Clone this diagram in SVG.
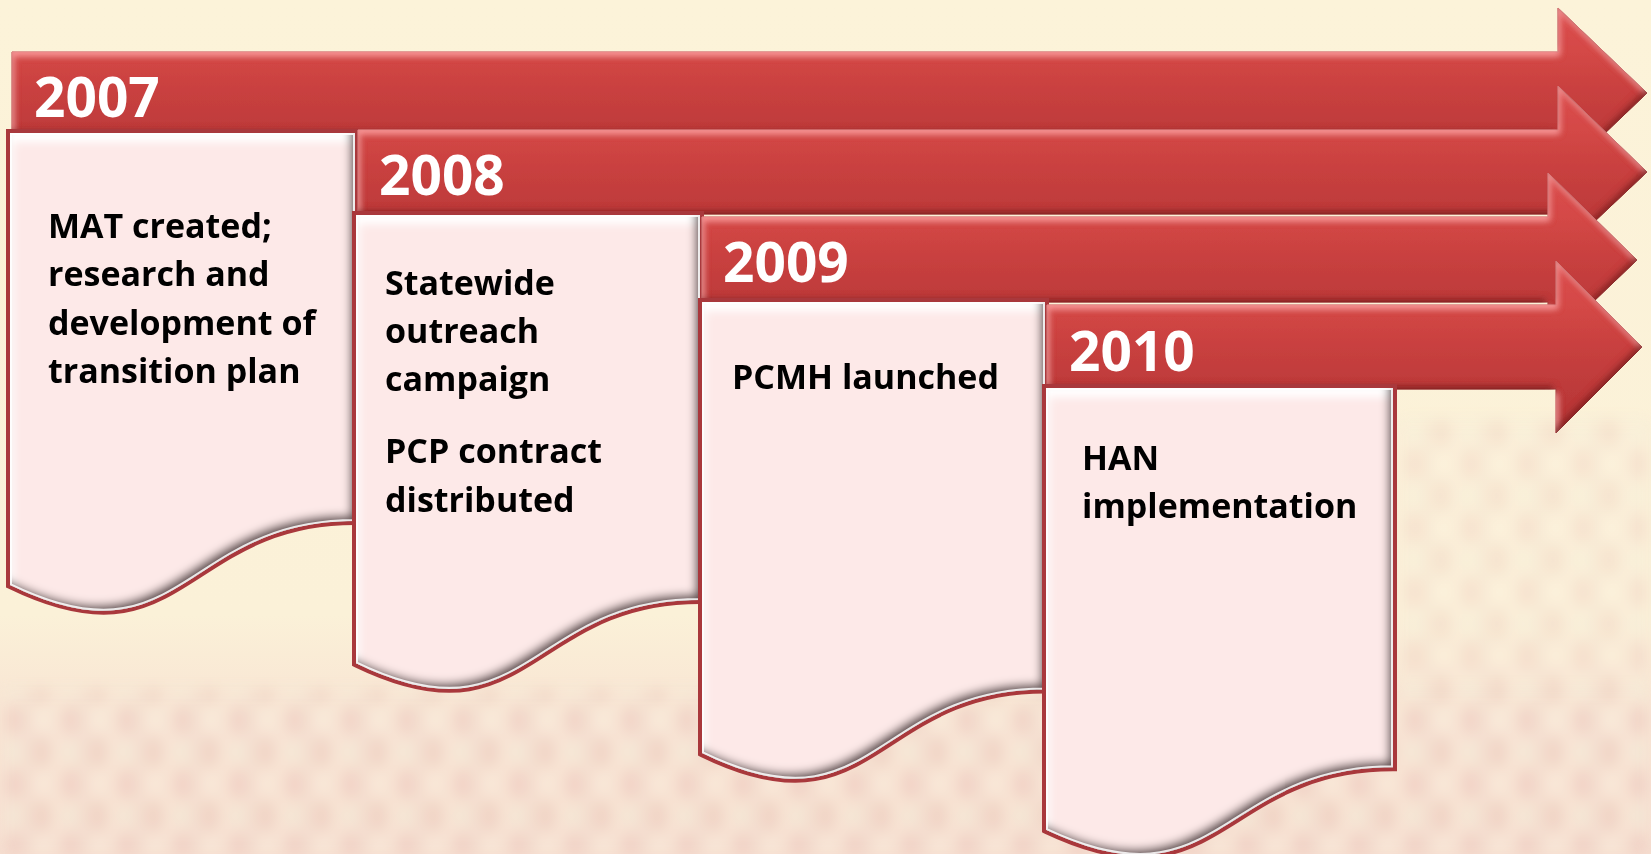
<svg xmlns="http://www.w3.org/2000/svg" width="1651" height="854" viewBox="0 0 1651 854">
  <style>
    .year { font-family: "Open Sans", "Noto Sans", "Liberation Sans", sans-serif; font-weight: 700; font-size: 55px; fill: #ffffff; }
    .body { font-family: "Open Sans", "Noto Sans", "Liberation Sans", sans-serif; font-weight: 700; font-size: 34px; fill: #000000; }
    .arrow { fill: url(#arrowGrad); stroke: #a33333; stroke-width: 1; filter: url(#bevelA); }
    .boxEdge { fill: none; stroke: #a9383c; stroke-width: 8; stroke-linejoin: miter; }
    .boxFill { fill: #fde9e8; filter: url(#bevelB); }
    .boxInner { fill: none; stroke: #ffffff; stroke-width: 4; opacity: 0.85; }
  </style>
  <defs>
    <linearGradient id="bgGrad" x1="0" y1="0" x2="0" y2="1">
      <stop offset="0" stop-color="#fcf3d9"/>
      <stop offset="0.72" stop-color="#fbf1d8"/>
      <stop offset="0.84" stop-color="#f8e4d3"/>
      <stop offset="1" stop-color="#f6ded0"/>
    </linearGradient>
    <linearGradient id="arrowGrad" x1="0" y1="0" x2="0" y2="1">
      <stop offset="0" stop-color="#dc5050"/>
      <stop offset="0.26" stop-color="#d44846"/>
      <stop offset="0.5" stop-color="#c8403f"/>
      <stop offset="0.75" stop-color="#bd3a3a"/>
      <stop offset="1" stop-color="#b43535"/>
    </linearGradient>
    <pattern id="texture" width="56" height="64" patternUnits="userSpaceOnUse">
      <rect width="56" height="64" fill="#f7e6d6"/>
      <ellipse cx="14" cy="16" rx="8" ry="16" fill="#e9bdb6"/>
      <ellipse cx="42" cy="48" rx="8" ry="16" fill="#e6c0b4"/>
      <ellipse cx="42" cy="16" rx="6" ry="10" fill="#fdf4e4"/>
      <ellipse cx="14" cy="48" rx="6" ry="10" fill="#eef0dc"/>
      <rect x="26" y="0" width="4" height="64" fill="#e3c2ba"/>
    </pattern>
    <filter id="soft" x="-5%" y="-10%" width="110%" height="120%">
      <feGaussianBlur stdDeviation="7"/>
    </filter>
    <filter id="bevelA" x="-3%" y="-15%" width="106%" height="130%">
      <feComponentTransfer in="SourceAlpha" result="inv">
        <feFuncA type="table" tableValues="1 0"/>
      </feComponentTransfer>
      <feGaussianBlur in="inv" stdDeviation="3" result="ib"/>
      <feOffset in="ib" dx="2" dy="4" result="hiOff"/>
      <feFlood flood-color="#ff9c9c" flood-opacity="0.95"/>
      <feComposite in2="hiOff" operator="in" result="hi"/>
      <feComposite in="hi" in2="SourceAlpha" operator="in" result="hiIn"/>
      <feOffset in="ib" dx="-2" dy="-4" result="shOff"/>
      <feFlood flood-color="#7a1f1f" flood-opacity="0.85"/>
      <feComposite in2="shOff" operator="in" result="sh"/>
      <feComposite in="sh" in2="SourceAlpha" operator="in" result="shIn"/>
      <feMerge>
        <feMergeNode in="SourceGraphic"/>
        <feMergeNode in="hiIn"/>
        <feMergeNode in="shIn"/>
      </feMerge>
    </filter>
    <filter id="bevelB" x="-6%" y="-6%" width="112%" height="112%">
      <feComponentTransfer in="SourceAlpha" result="inv">
        <feFuncA type="table" tableValues="1 0"/>
      </feComponentTransfer>
      <feGaussianBlur in="inv" stdDeviation="4.5" result="ib"/>
      <feOffset in="ib" dx="3" dy="9" result="hiOff"/>
      <feFlood flood-color="#ffffff" flood-opacity="1"/>
      <feComposite in2="hiOff" operator="in" result="hi"/>
      <feComposite in="hi" in2="SourceAlpha" operator="in" result="hiIn"/>
      <feOffset in="ib" dx="-5" dy="-6" result="shOff"/>
      <feFlood flood-color="#5e4c4e" flood-opacity="1"/>
      <feComposite in2="shOff" operator="in" result="sh"/>
      <feComposite in="sh" in2="SourceAlpha" operator="in" result="shIn"/>
      <feMerge>
        <feMergeNode in="SourceGraphic"/>
        <feMergeNode in="hiIn"/>
        <feMergeNode in="shIn"/>
      </feMerge>
    </filter>
    <path id="s1" d="M10,133 H355 V521 C182.5,521 182.5,669 10,585 Z"/>
    <path id="s2" d="M356,215 H700 V600 C528,600 528,746.6 356,663.3 Z"/>
    <path id="s3" d="M702,302 H1045 V689.4 C873.5,689.4 873.5,836.9 702,753.1 Z"/>
    <path id="s4" d="M1046,388 H1393 V767.3 C1219.5,767.3 1219.5,911.8 1046,829.8 Z"/>
    <clipPath id="c1"><use href="#s1"/></clipPath>
    <clipPath id="c2"><use href="#s2"/></clipPath>
    <clipPath id="c3"><use href="#s3"/></clipPath>
    <clipPath id="c4"><use href="#s4"/></clipPath>
  </defs>

  <!-- background -->
  <rect x="0" y="0" width="1651" height="854" fill="url(#bgGrad)"/>
  <g opacity="0.45" filter="url(#soft)">
    <rect x="0" y="690" width="1651" height="164" fill="url(#texture)"/>
    <rect x="1395" y="420" width="256" height="270" fill="url(#texture)" opacity="0.7"/>
  </g>

  <g id="connectors"/>

  <!-- 2007 -->
  <g id="arrow-2007">
    <path class="arrow" d="M12,52 H1558 V8 L1647,93 L1558,178 V134 H12 Z"/>
    <text class="year" x="34" y="117">2007</text>
  </g>
  <g id="box-2007">
    <use href="#s1" class="boxEdge"/>
    <use href="#s1" class="boxFill"/>
    <g clip-path="url(#c1)"><use href="#s1" class="boxInner"/></g>
    <text class="body" x="48" y="238">MAT created;</text>
    <text class="body" x="48" y="286">research and</text>
    <text class="body" x="48" y="335">development of</text>
    <text class="body" x="48" y="383">transition plan</text>
  </g>

  <!-- 2008 -->
  <g id="arrow-2008">
    <path class="arrow" d="M358,130 H1558 V86 L1647,172 L1558,256 V214 H358 Z"/>
    <text class="year" x="379" y="195">2008</text>
  </g>
  <g id="box-2008">
    <use href="#s2" class="boxEdge"/>
    <use href="#s2" class="boxFill"/>
    <g clip-path="url(#c2)"><use href="#s2" class="boxInner"/></g>
    <text class="body" x="385" y="295">Statewide</text>
    <text class="body" x="385" y="343">outreach</text>
    <text class="body" x="385" y="391">campaign</text>
    <text class="body" x="385" y="463">PCP contract</text>
    <text class="body" x="385" y="512">distributed</text>
  </g>

  <!-- 2009 -->
  <g id="arrow-2009">
    <path class="arrow" d="M702,217 H1548 V173 L1637,260 L1548,345 V302 H702 Z"/>
    <text class="year" x="723" y="282">2009</text>
  </g>
  <g id="box-2009">
    <use href="#s3" class="boxEdge"/>
    <use href="#s3" class="boxFill"/>
    <g clip-path="url(#c3)"><use href="#s3" class="boxInner"/></g>
    <text class="body" x="732" y="389">PCMH launched</text>
  </g>

  <!-- 2010 -->
  <g id="arrow-2010">
    <path class="arrow" d="M1047,305 H1556 V261 L1642,347 L1556,433 V389 H1047 Z"/>
    <text class="year" x="1069" y="371">2010</text>
  </g>
  <g id="box-2010">
    <use href="#s4" class="boxEdge"/>
    <use href="#s4" class="boxFill"/>
    <g clip-path="url(#c4)"><use href="#s4" class="boxInner"/></g>
    <text class="body" x="1082" y="470">HAN</text>
    <text class="body" x="1082" y="518">implementation</text>
  </g>
</svg>
